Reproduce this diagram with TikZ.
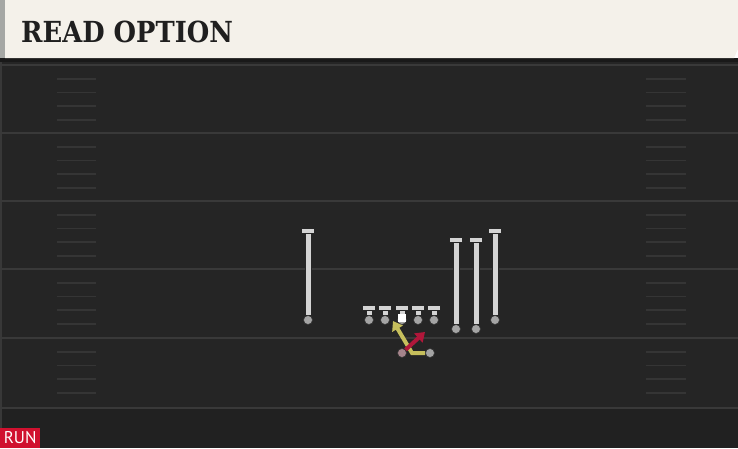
\documentclass[tikz,border=0pt]{standalone}
\usepackage{fontspec}
\setmainfont{DejaVu Serif}
\newfontfamily\tagfont{PT Sans}
\usetikzlibrary{positioning,arrows.meta}

\definecolor{turf}{HTML}{252525}
\definecolor{turf dark}{HTML}{212121}
\definecolor{turf line}{HTML}{393939}
\definecolor{hash line}{HTML}{353535}
\definecolor{header cream}{HTML}{F4F1EA}
\definecolor{header edge}{HTML}{A5A7A4}
\definecolor{stem gray}{HTML}{D4D4D4}
\definecolor{dot gray}{HTML}{A4A4A4}
\definecolor{qb pink}{HTML}{A5848B}
\definecolor{read yellow}{HTML}{C6BF5C}
\definecolor{read red}{HTML}{B0173A}
\definecolor{tag red}{HTML}{D0112F}

\tikzset {
    style yard/.style={
        draw=turf line,
        line width=2pt,
    },
    style hash/.style={
        draw=hash line,
        line width=1.6pt,
    },
    style title/.style={
        font=\fontsize{29}{29}\selectfont\bfseries,
        text=black!88,
        inner sep=0pt,
    },
    style bar/.style={
        fill=stem gray,
        draw=black!85,
        line width=1pt,
        rectangle, % the top of the T
        minimum width=13pt,
        minimum height=5pt,
        inner sep=0pt,
    },
    style dot/.style={
        fill=dot gray,
        draw=black!80,
        line width=0.6pt,
        circle,
        minimum size=9pt,
        inner sep=0pt,
    },
    style stem/.style={
        draw=black!85,
        line width=1pt,
        double=stem gray,
        double distance=5pt,
    },
    style snap/.style={
        fill=white,
        rectangle,
        minimum size=8pt,
        inner sep=0pt,
    },
    style route/.style={
        line width=4pt,
        -{Triangle[length=9pt,width=12pt]},
    },
    style tag/.style={
        fill=tag red,
        text=white,
        font=\tagfont\fontsize{17}{17}\selectfont,
        rectangle, % the play type box
        minimum width=40pt,
        minimum height=20pt,
        inner sep=0pt,
    },
}

\begin{document}
\begin{tikzpicture}[x=1pt, y=-1pt]

        \useasboundingbox (0,0) rectangle (738,448);

        % field
        \fill[turf] (0,60) rectangle (738,448);
        \fill[turf dark] (0,408) rectangle (738,448);
        \fill[black!78] (0,60) rectangle (2,448);

        \foreach \yl in {65,133,201,269,338,408}
            \draw[style yard] (0,\yl) -- (738,\yl);
        \foreach \yl in {65,133,201,269,338}
            \foreach \k in {1,...,4} {
                \draw[style hash] (57,\yl+13.7*\k) -- (96,\yl+13.7*\k);
                \draw[style hash] (646,\yl+13.7*\k) -- (686,\yl+13.7*\k);
            }

        % header
        \fill[black!90] (0,58) rectangle (738,62);
        \fill[header cream] (5,0) -- (738,0) -- (738,49) -- (734,58) -- (5,58) -- cycle;
        \fill[header edge] (0,0) rectangle (5,58);
        \node[style title, anchor=base west] (title) at (21,42) {\scalebox{0.89}[1]{READ OPTION}};

        % players
        \foreach \n/\x/\top/\bot in {wrl/308/231/320, lt/369/308/320, lg/385/308/320,
                c/402/308/320, rg/418/308/320, rt/434/308/320,
                te/456/240/329, slot/476/240/329, wrr/495/231/320} {
            \node[style bar] (\n) at (\x,\top) {};
            \node[style dot] (\n dot) at (\x,\bot) {};
            \draw[style stem] (\n) -- (\n dot);
        }
        \node[style snap] (ball) at (402,318) {};

        % backfield
        \node[style dot, fill=qb pink] (qb) at (402,353) {};
        \node[style dot] (rb) at (430,353) {};
        \coordinate (rb cut) at (412,353);
        \coordinate (rb end) at (393,321);
        \coordinate (qb end) at (425,332);
        \draw[style route, draw=read yellow] (rb) -- (rb cut) -- (rb end);
        \draw[style route, draw=read red] (qb) -- (qb end);

        \node[style tag, anchor=south west] (tag) at (0,448) {RUN};

    \end{tikzpicture}
\end{document}
